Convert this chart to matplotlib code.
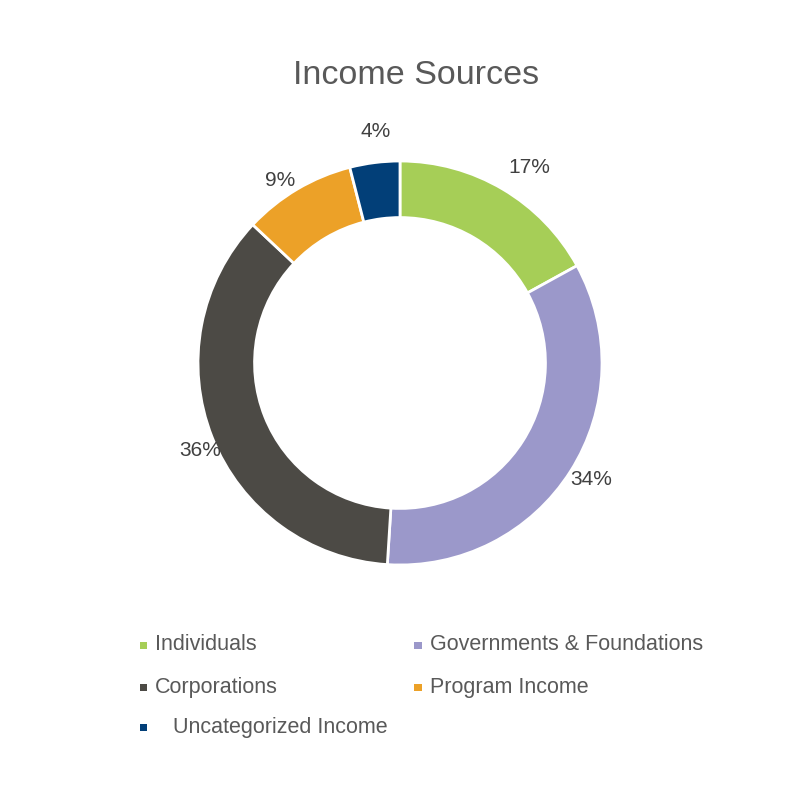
import numpy as np
import matplotlib
matplotlib.use('Agg')
import matplotlib.pyplot as plt
from matplotlib.patches import Rectangle

plt.rcParams['font.family'] = ['Liberation Sans', 'DejaVu Sans']

categories = ['Individuals', 'Governments & Foundations', 'Corporations',
              'Program Income', 'Uncategorized Income']
shares = [17, 34, 36, 9, 4]
colors = ['#A6CE57', '#9B98CA', '#4C4A45', '#ECA128', '#023F78']

# label placement tweaks (radius factor, angle nudge in degrees clockwise)
label_dist = [1.16, 1.11, 1.08, 1.08, 1.15]
label_nudge = [3.0, -1.0, -2.0, -2.6, 1.2]

fig = plt.figure(figsize=(8, 8), dpi=100)

# donut centred at (400, 363) px, outer radius ~202 px
cx, cy, r = 0.5, 1 - 363 / 800, 202 / 800
ax = fig.add_axes([cx - r, cy - r, 2 * r, 2 * r])
wedges, texts, autotexts = ax.pie(
    shares, colors=colors, startangle=90, counterclock=False,
    autopct='%1.0f%%', pctdistance=1.13,
    wedgeprops=dict(width=0.28, edgecolor='white', linewidth=2),
    textprops=dict(fontsize=15, color='#404040'))

# move the percentage labels roughly where the original puts them
total = sum(shares)
start = 0.0
for t, v, d, nudge in zip(autotexts, shares, label_dist, label_nudge):
    mid = (start + v / 2) / total * 360 + nudge
    a = np.radians(mid)
    t.set_position((d * np.sin(a), d * np.cos(a)))
    start += v

ax.set_xlim(-1, 1)
ax.set_ylim(-1, 1)
ax.set_aspect('equal')
ax.axis('off')

fig.text(416 / 800, 1 - 75 / 800, 'Income Sources', ha='center', va='center',
         fontsize=24.5, color='#595959')

# legend, two columns, row-major like the original
col_x = [143 / 800, 418 / 800]
row_y = [1 - 645 / 800, 1 - 687 / 800, 1 - 727 / 800]
sq = 7 / 800
for i, (name, col) in enumerate(zip(categories, colors)):
    x = col_x[i % 2]
    y = row_y[i // 2]
    fig.patches.append(Rectangle((x - sq / 2, y - sq / 2), sq, sq,
                                 transform=fig.transFigure, facecolor=col,
                                 edgecolor='none'))
    tx = x + (30 if name == 'Uncategorized Income' else 12) / 800
    fig.text(tx, y, name, ha='left', va='center', fontsize=15.5,
             color='#595959')

fig.savefig('out.png', dpi=100, facecolor='white')
